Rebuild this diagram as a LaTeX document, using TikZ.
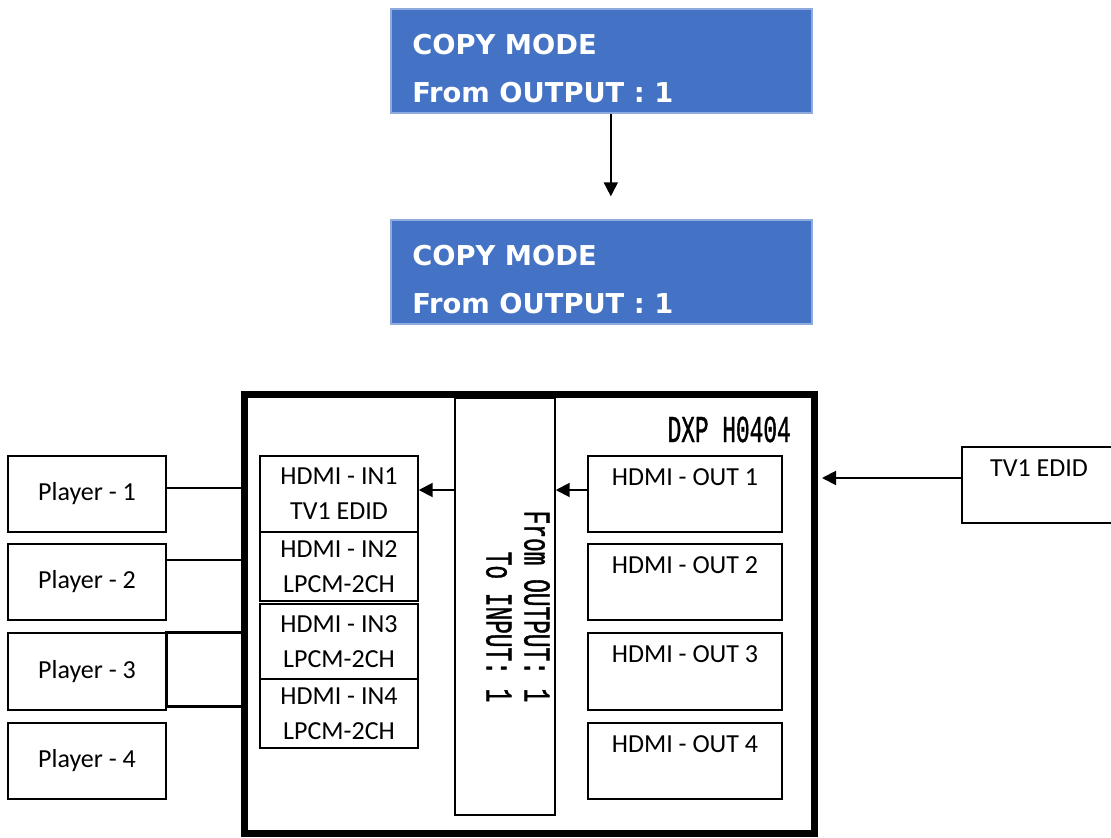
\documentclass[tikz,border=0pt]{standalone}
\usepackage{fontspec}
\setmainfont{Carlito}
\newfontfamily\copyfont{DejaVu Sans}
\newfontfamily\dxpfont[FakeStretch=0.6,FakeBold=1]{Liberation Mono}
\usetikzlibrary{positioning,arrows.meta}

\definecolor{copyblue}{HTML}{4472C4}
\definecolor{copyedge}{HTML}{8FAADC}

\tikzset{
  copybox/.style={fill=copyblue, draw=copyedge, line width=1.5pt,
    minimum width=315.75pt, minimum height=78pt},
  copytext/.style={text=white, anchor=west, align=left, inner sep=0pt,
    font=\copyfont\bfseries\fontsize{20.5}{36}\selectfont},
  boxtext/.style={font=\fontsize{19.5}{26.25}\selectfont},
  monotext/.style={inner sep=0pt, font=\dxpfont\fontsize{28.5}{28.5}\selectfont},
  player/.style={boxtext, draw, line width=1.1pt, inner sep=0pt,
    minimum width=118.5pt, minimum height=57pt},
  inbox/.style={boxtext, draw, line width=1.1pt, inner sep=0pt, align=center,
    minimum width=118.5pt},
  outbox/.style={boxtext, draw, line width=1.1pt, inner sep=0pt,
    minimum width=145.5pt, minimum height=57pt, text height=14pt, text depth=27pt},
  dxpbox/.style={draw, line width=5.25pt, minimum width=427.5pt, minimum height=329.6pt},
  midbox/.style={draw, line width=1.1pt, minimum width=75pt, minimum height=312.75pt},
  wire/.style={line width=2.2pt},
  edidarrow/.style={-{Triangle[length=10.5pt,width=10.5pt]}, line width=1.5pt}
}

\begin{document}
\begin{tikzpicture}[x=0.75pt, y=-0.75pt]
\useasboundingbox (0,0) rectangle (1111,838);

% front panel screens
\node[copybox] (copyA) at (601.5,61) {};
\node[copytext] (copyAtxt) at (412,69) {COPY MODE\\From OUTPUT : 1};
\node[copybox] (copyB) at (601.5,272) {};
\node[copytext] (copyBtxt) at (412,280) {COPY MODE\\From OUTPUT : 1};
\draw[edidarrow, line width=1.2pt, shorten >=17pt]
  ([xshift=7pt]copyA.south) -- ([xshift=7pt]copyB.north);

% matrix
\node[dxpbox] (dxp) at (529.5,614) {};
\node[monotext, anchor=base east] (dxpname) at (791,442) {DXP H0404};
\node[midbox] (mid) at (505,606.5) {};
\node[monotext, rotate=-90, align=right] (route) at (518,606.5) {From OUTPUT: 1\\To INPUT: 1};

% sources
\node[player] (p1) at (87,494) {Player - 1};
\node[player] (p2) at (87,582) {Player - 2};
\node[player, minimum height=57.75pt] (p3) at (87,671.5) {Player - 3};
\node[player] (p4) at (87,761) {Player - 4};

% inputs
\node[inbox, minimum height=57pt] (in1) at (339,494) {HDMI - IN1\\TV1 EDID};
\node[inbox, minimum height=51.75pt] (in2) at (339,566.5) {HDMI - IN2\\LPCM-2CH};
\node[inbox, minimum height=56.25pt] (in3) at (339,641.5) {HDMI - IN3\\LPCM-2CH};
\node[inbox, minimum height=51.75pt] (in4) at (339,713.5) {HDMI - IN4\\LPCM-2CH};

% outputs
\node[outbox] (out1) at (685,494) {HDMI - OUT 1};
\node[outbox] (out2) at (685,582) {HDMI - OUT 2};
\node[outbox, minimum height=57.75pt] (out3) at (685,671.5) {HDMI - OUT 3};
\node[outbox] (out4) at (685,761) {HDMI - OUT 4};

\node[outbox, minimum width=115.5pt] (tv) at (1039,485) {TV1 EDID};

% cables
\coordinate (p1port) at ([yshift=4.5pt]p1.east);
\coordinate (p2port) at ([yshift=16.5pt]p2.east);
\coordinate (p3top) at (p3.north east);
\coordinate (p3bot) at ([yshift=3pt]p3.south east);
\draw[wire] (p1port) -- (p1port -| dxp.west);
\draw[wire] (p2port) -- (p2port -| dxp.west);
\draw[wire] (p3top -| dxp.west) -- (p3top) -- (p3bot) -- (p3bot -| dxp.west);

% edid path
\coordinate (tvport) at ([yshift=5.25pt]tv.west);
\coordinate (outport) at ([yshift=3pt]out1.west);
\draw[edidarrow, shorten >=3pt] (tvport) -- (tvport -| dxp.east);
\draw[edidarrow] (outport) -- (outport -| mid.east);
\draw[edidarrow] (outport -| mid.west) -- (outport -| in1.east);
\end{tikzpicture}
\end{document}
